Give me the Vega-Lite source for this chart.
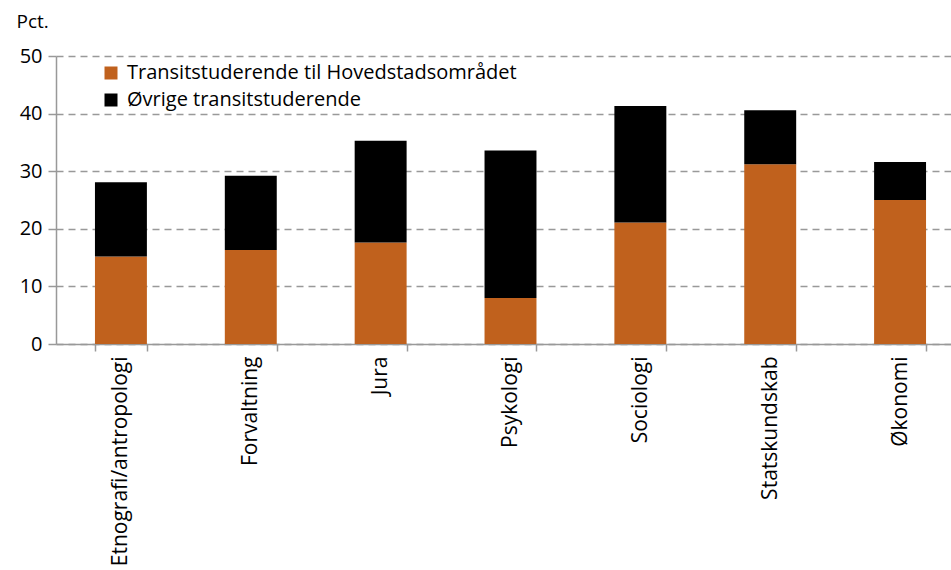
{
  "$schema": "https://vega.github.io/schema/vega-lite/v6.json",
  "width": 909,
  "height": 288,
  "autosize": {"type": "none"},
  "padding": {"left": 56, "top": 56, "right": 0, "bottom": 226},
  "background": "white",
  "config": {
    "view": {"stroke": null},
    "font": "Open Sans",
    "axis": {"labelFont": "Open Sans", "titleFont": "Open Sans", "labelColor": "#000", "titleColor": "#000"},
    "legend": {"labelFont": "Open Sans", "labelColor": "#000"}
  },
  "data": {
    "values": [
      {"fag": "Etnografi/antropologi", "serie": "Transitstuderende til Hovedstadsområdet", "o": 1, "v": 15.2},
      {"fag": "Etnografi/antropologi", "serie": "Øvrige transitstuderende", "o": 2, "v": 12.9},
      {"fag": "Forvaltning", "serie": "Transitstuderende til Hovedstadsområdet", "o": 1, "v": 16.3},
      {"fag": "Forvaltning", "serie": "Øvrige transitstuderende", "o": 2, "v": 12.9},
      {"fag": "Jura", "serie": "Transitstuderende til Hovedstadsområdet", "o": 1, "v": 17.6},
      {"fag": "Jura", "serie": "Øvrige transitstuderende", "o": 2, "v": 17.7},
      {"fag": "Psykologi", "serie": "Transitstuderende til Hovedstadsområdet", "o": 1, "v": 8.0},
      {"fag": "Psykologi", "serie": "Øvrige transitstuderende", "o": 2, "v": 25.6},
      {"fag": "Sociologi", "serie": "Transitstuderende til Hovedstadsområdet", "o": 1, "v": 21.1},
      {"fag": "Sociologi", "serie": "Øvrige transitstuderende", "o": 2, "v": 20.2},
      {"fag": "Statskundskab", "serie": "Transitstuderende til Hovedstadsområdet", "o": 1, "v": 31.2},
      {"fag": "Statskundskab", "serie": "Øvrige transitstuderende", "o": 2, "v": 9.4},
      {"fag": "Økonomi", "serie": "Transitstuderende til Hovedstadsområdet", "o": 1, "v": 25.0},
      {"fag": "Økonomi", "serie": "Øvrige transitstuderende", "o": 2, "v": 6.6}
    ]
  },
  "mark": {"type": "bar"},
  "encoding": {
    "x": {
      "field": "fag", "type": "nominal", "sort": null,
      "scale": {"paddingInner": 0.6, "paddingOuter": 0.3},
      "axis": {
        "title": null, "labelAngle": -90, "labelAlign": "right", "labelBaseline": "middle",
        "labelFontSize": 21, "labelPadding": 5, "labelLimit": 400,
        "domainColor": "#999", "domainWidth": 1.5,
        "tickBand": "extent", "tickColor": "#999", "tickWidth": 1.5, "tickSize": 7
      }
    },
    "y": {
      "field": "v", "type": "quantitative", "aggregate": "sum", "stack": "zero",
      "scale": {"domain": [0, 50], "nice": false},
      "axis": {
        "title": "Pct.", "titleAngle": 0, "titleAlign": "left", "titleBaseline": "middle",
        "titleX": -40, "titleY": -35, "titleFontSize": 19, "titleFontWeight": "normal",
        "values": [0, 10, 20, 30, 40, 50], "labelFontSize": 20, "labelPadding": 6,
        "domainColor": "#999", "domainWidth": 1.5,
        "tickColor": "#999", "tickWidth": 1.5, "tickSize": 8,
        "grid": true, "gridColor": "#999", "gridWidth": 1.5, "gridDash": [7, 5]
      }
    },
    "color": {
      "field": "serie", "type": "nominal",
      "scale": {"domain": ["Transitstuderende til Hovedstadsområdet", "Øvrige transitstuderende"], "range": ["#C0611D", "#000000"]},
      "legend": {
        "title": null, "orient": "none", "legendX": 45, "legendY": 7,
        "symbolType": "square", "symbolSize": 169, "symbolStrokeWidth": 0,
        "labelFontSize": 20, "labelLimit": 600, "rowPadding": 7, "labelOffset": 6
      }
    },
    "order": {"field": "o", "type": "quantitative"}
  }
}
